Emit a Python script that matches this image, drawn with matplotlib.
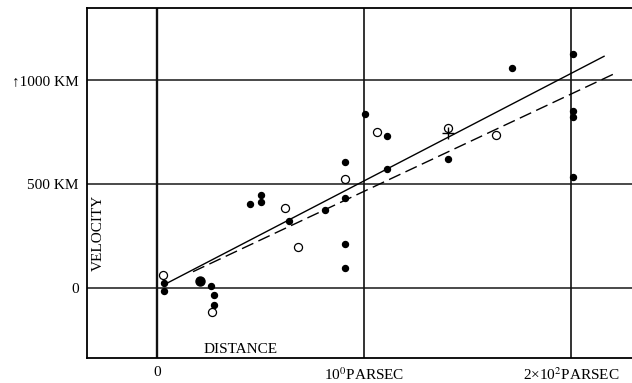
import numpy as np
import matplotlib.pyplot as plt

plt.rcParams['font.family'] = ['Liberation Serif', 'DejaVu Serif']
plt.rcParams['mathtext.fontset'] = 'stix'

# distance in units of 10^6 parsec, velocity in km/s
filled_x = [0.034, 0.034, 0.26, 0.275, 0.275, 0.449, 0.504, 0.504, 0.639, 0.81,
            0.91, 0.91, 0.91, 0.908, 1.003, 1.113, 1.113, 1.408, 1.717,
            2.01, 2.01, 2.01, 2.01]
filled_y = [24, -16, 8, -35, -83, 401, 446, 411, 322, 374,
            430, 210, 95, 604, 837, 731, 571, 617, 1058,
            1125, 851, 819, 534]
big_x = [0.21]
big_y = [34]
open_x = [0.03, 0.268, 0.617, 0.679, 0.908, 1.061, 1.408, 1.636]
open_y = [61, -117, 385, 197, 522, 749, 766, 736]
cross_x = [1.408]
cross_y = [745]

solid_x = [0.047, 2.16]
solid_y = [21, 1113]
dash_x = [0.174, 2.22]
dash_y = [77, 1034]

ytick_vals = [0, 500, 1000]
ytick_labels = ['0', '500 KM', '\u21911000 KM']
xtick_vals = [0, 1, 2]
xtick_labels = ['0', '10$^0$PARSEC', '2\u00d710$^2$PARSEC']

fig = plt.figure(figsize=(6.32, 3.83), dpi=100)
ax = fig.add_axes([0.1377, 0.0653, 0.8623, 0.9137])
ax.set_xlim(-0.338, 2.295)
ax.set_ylim(-338, 1345)

for v in ytick_vals:
    ax.axhline(v, color='#2a2a2a', lw=1.2, zorder=1)
for v in xtick_vals:
    ax.axvline(v, color='#111111', lw=1.7 if v == 0 else 1.2, zorder=1)

ax.plot(solid_x, solid_y, color='black', lw=1.0, zorder=2)
ax.plot(dash_x, dash_y, color='black', lw=1.0, dashes=(9, 4), zorder=2)

ax.plot(filled_x, filled_y, 'o', color='black', ms=4.3, zorder=3)
ax.plot(big_x, big_y, 'o', color='black', ms=6.5, zorder=3)
ax.plot(open_x, open_y, 'o', mfc='white', mec='black', mew=0.9, ms=5.8, zorder=3)
ax.plot(cross_x, cross_y, '+', color='black', ms=9, mew=1.0, zorder=4)

for s in ['left', 'top', 'bottom']:
    ax.spines[s].set_linewidth(1.3)
ax.spines['right'].set_visible(False)

ax.set_yticks(ytick_vals)
ax.set_yticklabels(ytick_labels, fontsize=11)
ax.set_xticks(xtick_vals)
ax.set_xticklabels(xtick_labels, fontsize=11)
ax.tick_params(axis='y', length=0, pad=6)
ax.tick_params(axis='x', length=0, pad=6)

ax.text(-0.285, 265, 'VELOCITY', rotation=90, fontsize=11, ha='center', va='center')
ax.text(0.405, -297, 'DISTANCE', fontsize=11, ha='center', va='center')

fig.savefig('out.png', dpi=100)
